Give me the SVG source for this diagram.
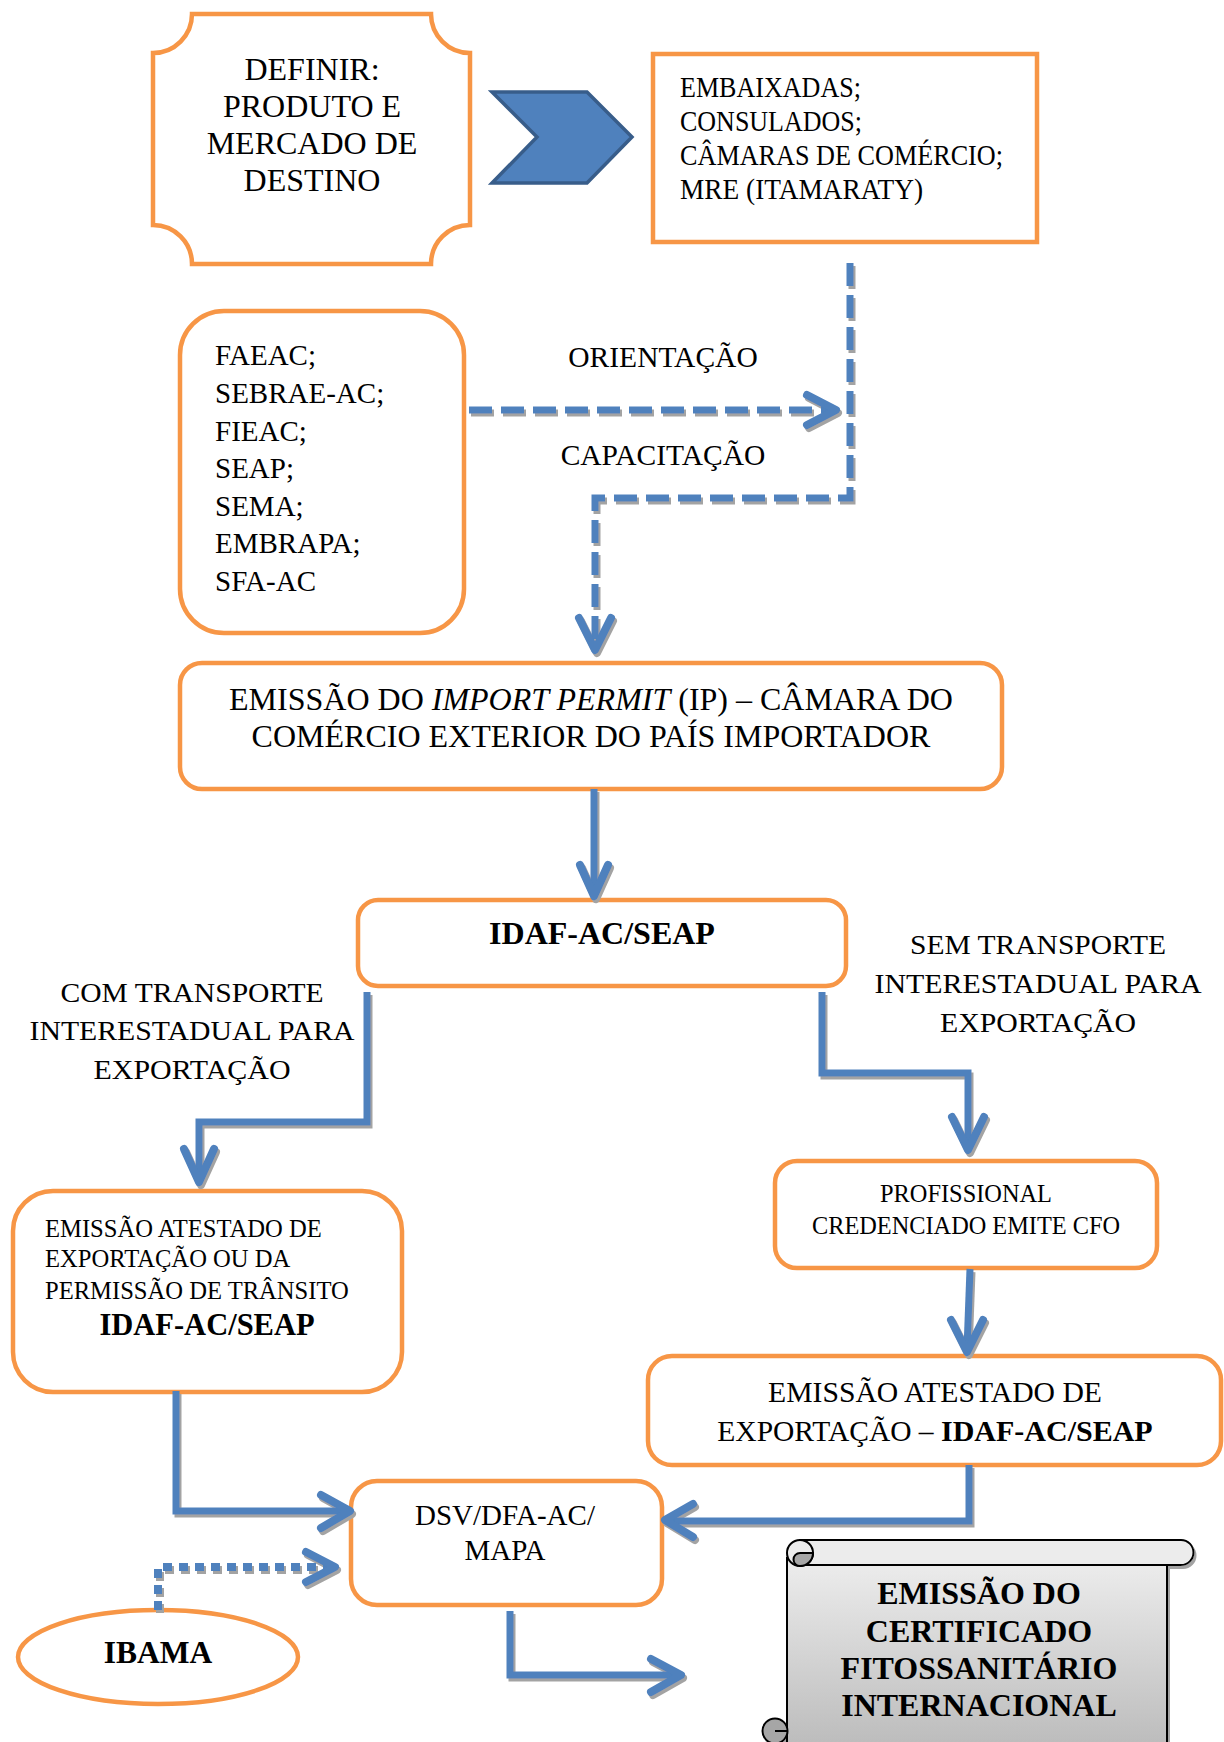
<svg xmlns="http://www.w3.org/2000/svg" width="1224" height="1742" viewBox="0 0 1224 1742">
<style>
.box{fill:#fff;stroke:#F79646;stroke-width:4.5}
.t{font-family:"Liberation Serif","Times New Roman",serif;fill:#000}
.b{font-weight:bold}
.m{text-anchor:middle}
.ln{fill:none;stroke:#4F81BD;stroke-width:7}
.hd{fill:none;stroke:#4F81BD;stroke-width:8;stroke-linecap:round;stroke-linejoin:round}
.dash{stroke-dasharray:23 9}
.dot{stroke-dasharray:9 7;stroke-width:8}
.sc{stroke:#000;stroke-width:2}
</style>
<defs>
<filter id="sh" filterUnits="userSpaceOnUse" x="0" y="0" width="1224" height="1742">
<feOffset in="SourceAlpha" dx="1.5" dy="3" result="o"/>
<feFlood flood-color="#a3a3a3"/>
<feComposite in2="o" operator="in" result="s"/>
<feMerge><feMergeNode in="s"/><feMergeNode in="SourceGraphic"/></feMerge>
</filter>
<linearGradient id="gs" gradientUnits="userSpaceOnUse" x1="0" y1="1540" x2="0" y2="1742">
<stop offset="0" stop-color="#f2f2f2"/>
<stop offset="1" stop-color="#bdbdbd"/>
</linearGradient>
</defs>
<rect width="1224" height="1742" fill="#fff"/>

<g id="definir">
<path class="box" d="M192,14 H431 A39 39 0 0 0 470,53 V225 A39 39 0 0 0 431,264 H192 A39 39 0 0 0 153,225 V53 A39 39 0 0 0 192,14 Z"/>
<text class="t m" font-size="32" x="312" y="80">DEFINIR:</text>
<text class="t m" font-size="32" x="312" y="117">PRODUTO E</text>
<text class="t m" font-size="32" x="312" y="154">MERCADO DE</text>
<text class="t m" font-size="32" x="312" y="191">DESTINO</text>
</g>

<g id="chevron">
<polygon points="492,92 587,92 632,137 587,183 492,183 537,137" fill="#4F81BD" stroke="#385D8A" stroke-width="3.5"/>
</g>

<g id="embaixadas">
<rect class="box" x="653" y="54" width="384" height="188"/>
<text class="t" font-size="28.5" x="680" y="97" textLength="181" lengthAdjust="spacingAndGlyphs">EMBAIXADAS;</text>
<text class="t" font-size="28.5" x="680" y="131" textLength="182" lengthAdjust="spacingAndGlyphs">CONSULADOS;</text>
<text class="t" font-size="28.5" x="680" y="165" textLength="323" lengthAdjust="spacingAndGlyphs">CÂMARAS DE COMÉRCIO;</text>
<text class="t" font-size="28.5" x="680" y="199" textLength="243" lengthAdjust="spacingAndGlyphs">MRE (ITAMARATY)</text>
</g>

<g id="faeac">
<rect class="box" x="180" y="311" width="284" height="322" rx="44" ry="44"/>
<text class="t" font-size="29" x="215" y="365">FAEAC;</text>
<text class="t" font-size="29" x="215" y="403">SEBRAE-AC;</text>
<text class="t" font-size="29" x="215" y="441">FIEAC;</text>
<text class="t" font-size="29" x="215" y="478">SEAP;</text>
<text class="t" font-size="29" x="215" y="516">SEMA;</text>
<text class="t" font-size="29" x="215" y="553">EMBRAPA;</text>
<text class="t" font-size="29" x="215" y="591">SFA-AC</text>
</g>

<g id="labels-orient">
<text class="t m" font-size="29.5" x="663" y="367">ORIENTAÇÃO</text>
<text class="t m" font-size="29.5" x="663" y="465">CAPACITAÇÃO</text>
</g>

<g id="import-permit">
<rect class="box" x="180" y="663" width="822" height="126" rx="22" ry="22"/>
<text class="t m" font-size="32" x="591" y="710">EMISSÃO DO <tspan font-style="italic">IMPORT PERMIT</tspan> (IP) – CÂMARA DO</text>
<text class="t m" font-size="32" x="591" y="747">COMÉRCIO EXTERIOR DO PAÍS IMPORTADOR</text>
</g>

<g id="idaf">
<rect class="box" x="358" y="900" width="488" height="86" rx="20" ry="20"/>
<text class="t b m" font-size="32" x="602" y="944">IDAF-AC/SEAP</text>
</g>

<g id="label-com">
<text class="t m" font-size="28" x="192" y="1002" textLength="263" lengthAdjust="spacingAndGlyphs">COM TRANSPORTE</text>
<text class="t m" font-size="28" x="192" y="1040" textLength="325" lengthAdjust="spacingAndGlyphs">INTERESTADUAL PARA</text>
<text class="t m" font-size="28" x="192" y="1079" textLength="197" lengthAdjust="spacingAndGlyphs">EXPORTAÇÃO</text>
</g>

<g id="label-sem">
<text class="t m" font-size="28" x="1038" y="954" textLength="256" lengthAdjust="spacingAndGlyphs">SEM TRANSPORTE</text>
<text class="t m" font-size="28" x="1038" y="993" textLength="327" lengthAdjust="spacingAndGlyphs">INTERESTADUAL PARA</text>
<text class="t m" font-size="28" x="1038" y="1032" textLength="196" lengthAdjust="spacingAndGlyphs">EXPORTAÇÃO</text>
</g>

<g id="profissional">
<rect class="box" x="775" y="1161" width="382" height="107" rx="22" ry="22"/>
<text class="t m" font-size="26" x="966" y="1202" textLength="172" lengthAdjust="spacingAndGlyphs">PROFISSIONAL</text>
<text class="t m" font-size="26" x="966" y="1234" textLength="308" lengthAdjust="spacingAndGlyphs">CREDENCIADO EMITE CFO</text>
</g>

<g id="atestado-dir">
<rect class="box" x="648" y="1356" width="573" height="109" rx="24" ry="24"/>
<text class="t m" font-size="29.5" x="935" y="1402" textLength="334" lengthAdjust="spacingAndGlyphs">EMISSÃO ATESTADO DE</text>
<text class="t m" font-size="29.5" x="935" y="1441">EXPORTAÇÃO – <tspan class="b" font-size="30">IDAF-AC/SEAP</tspan></text>
</g>

<g id="atestado-esq">
<rect class="box" x="13" y="1191" width="389" height="201" rx="40" ry="40"/>
<text class="t" font-size="24.6" x="45" y="1237">EMISSÃO ATESTADO DE</text>
<text class="t" font-size="24.6" x="45" y="1267">EXPORTAÇÃO OU DA</text>
<text class="t" font-size="24.6" x="45" y="1299">PERMISSÃO DE TRÂNSITO</text>
<text class="t b m" font-size="30.5" x="207" y="1335">IDAF-AC/SEAP</text>
</g>

<g id="dsv">
<rect class="box" x="351" y="1481" width="311" height="124" rx="26" ry="26"/>
<text class="t m" font-size="29" x="505" y="1525">DSV/DFA-AC/</text>
<text class="t m" font-size="29" x="505" y="1560">MAPA</text>
</g>

<g id="ibama">
<ellipse class="box" cx="158" cy="1657" rx="140" ry="47"/>
<text class="t b m" font-size="31.5" x="158" y="1663">IBAMA</text>
</g>

<g id="certificado">
<g filter="url(#sh)">
<rect x="787" y="1558" width="380" height="200" fill="url(#gs)" class="sc"/>
<path d="M800,1540 H1181 A12.5 12.5 0 0 1 1181,1565 H800 Z" fill="#ececec" class="sc"/>
<circle cx="800" cy="1553" r="13" fill="#ececec" class="sc"/>
<path d="M800,1553 H813 A13 13 0 0 1 800,1566 A6.5 6.5 0 0 1 800,1553 Z" fill="#a6a6a6" class="sc"/>
<circle cx="775" cy="1731" r="12.5" fill="#a6a6a6" class="sc"/>
<path d="M775,1731 H787" fill="none" class="sc"/>
</g>
<text class="t b m" font-size="32" x="979" y="1604">EMISSÃO DO</text>
<text class="t b m" font-size="32" x="979" y="1642">CERTIFICADO</text>
<text class="t b m" font-size="32" x="979" y="1679">FITOSSANITÁRIO</text>
<text class="t b m" font-size="32" x="979" y="1716">INTERNACIONAL</text>
</g>

<g id="connectors" filter="url(#sh)">
<path class="ln dash" d="M850,263 V498 H595 V648"/>
<path class="hd" d="M579,618 L595,650 L611,618"/>
<path class="ln dash" d="M469,410 H833"/>
<path class="hd" d="M807,395 L836,410 L807,425"/>
<path class="ln" d="M594,789 V893"/>
<path class="hd" d="M580,865 L594,896 L608,865"/>
<path class="ln" d="M367,992 V1122 H199 V1180"/>
<path class="hd" d="M184,1149 L199,1182 L214,1149"/>
<path class="ln" d="M822,992 V1073 H968 V1148"/>
<path class="hd" d="M952,1117 L968,1150 L984,1117"/>
<path class="ln" d="M970,1269 L967,1349"/>
<path class="hd" d="M951,1320 L967,1352 L983,1320"/>
<path class="ln" d="M176,1391 V1511 H348"/>
<path class="hd" d="M321,1495 L350,1511 L321,1528"/>
<path class="ln" d="M969,1465 V1521 H667"/>
<path class="hd" d="M693,1504 L665,1520 L693,1537"/>
<path class="ln" d="M510,1611 V1675 H679"/>
<path class="hd" d="M651,1659 L681,1675 L651,1692"/>
<path class="ln dot" d="M158,1610 V1567 H330"/>
<path class="hd" d="M306,1552 L335,1567 L306,1582"/>
</g>
</svg>
